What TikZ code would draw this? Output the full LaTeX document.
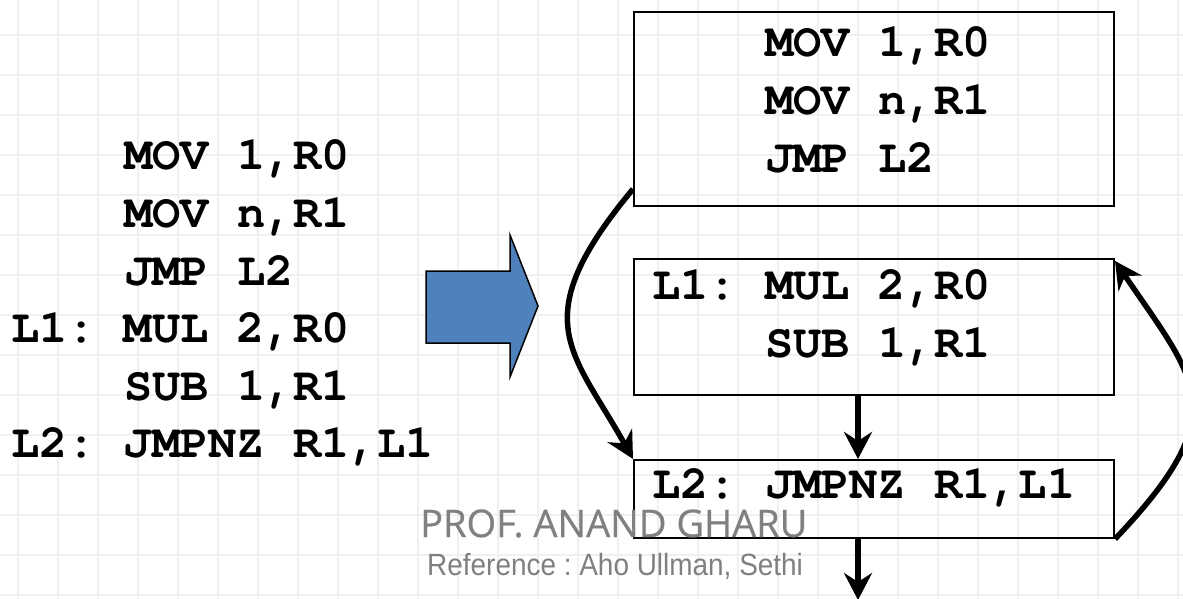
\documentclass[tikz,border=0pt]{standalone}
\usepackage{fontspec}
\usetikzlibrary{arrows.meta}
\newfontfamily\codefont{TeX Gyre Cursor}
\newfontfamily\signfont[FakeBold=0.6]{Open Sans}
\newfontfamily\reffont[FakeStretch=0.91]{Liberation Sans}
\definecolor{gridline}{HTML}{F0F0F0}
\definecolor{arrowblue}{HTML}{4F81BD}
\definecolor{signgray}{HTML}{808080}
\frenchspacing
\tikzset{
  code/.style={inner sep=0pt, anchor=base west, font=\codefont\bfseries\fontsize{47}{57.6}\selectfont},
  block/.style={draw=black, line width=2pt, inner sep=0pt, anchor=north west},
  flow/.style={draw=black, line width=5.5pt, -{Stealth[length=27pt,width=28pt,inset=9pt]}},
}
\begin{document}
\begin{tikzpicture}[x=1pt, y=-1pt]
  \useasboundingbox (0,0) rectangle (1183,599);
  \clip (0,0) rectangle (1183,599);
  \fill[white] (0,0) rectangle (1183,599);
  % background grid
  \foreach \gx in {18,58,...,1178} \draw[gridline, line width=1.5pt] (\gx,0) -- (\gx,599);
  \foreach \gy in {35,75,...,595} \draw[gridline, line width=1.5pt] (0,\gy) -- (1183,\gy);

  % source listing
  \node[code] (s1) at (124,169) {MOV 1,R0};
  \node[code] (s2) at (124,227) {MOV n,R1};
  \node[code] (s3) at (124,285) {JMP L2};
  \node[code] (s4) at (11,342) {L1: MUL 2,R0};
  \node[code] (s5) at (124,400) {SUB 1,R1};
  \node[code] (s6) at (11,457) {L2: JMPNZ R1,L1};

  % block arrow
  \filldraw[fill=arrowblue, draw=black, line width=1.5pt, line join=miter]
    (426,271) -- (510,271) -- (510,235) -- (538,306) -- (510,377) -- (510,343) -- (426,343) -- cycle;

  % basic blocks
  \node[block, minimum width=480pt, minimum height=194pt] (b1) at (633,11) {};
  \node[block, minimum width=480pt, minimum height=136pt] (b2) at (633,258) {};
  \node[block, minimum width=480pt, minimum height=78pt] (b3) at (633,459) {};

  \node[code] (t1) at (765,57) {MOV 1,R0};
  \node[code] (t2) at (765,115) {MOV n,R1};
  \node[code] (t3) at (765,172) {JMP L2};
  \node[code] (t4) at (652,299) {L1: MUL 2,R0};
  \node[code] (t5) at (765,357) {SUB 1,R1};
  \node[code] (t6) at (652,498) {L2: JMPNZ R1,L1};

  % control flow
  \coordinate (b2out) at (858,395);
  \coordinate (b3in) at (858,459);
  \coordinate (b3out) at (858,537);
  \coordinate (exit) at (858,600);
  \draw[flow] (b2out) -- (b3in);
  \draw[flow] (b3out) -- (exit);
  \draw[flow] ([yshift=18pt]b1.south west) .. controls +(-109,131) and +(-61,-109) .. (b3.north west);
  \draw[flow] (b3.south east) .. controls +(121,-127) and +(82,121) .. ([yshift=-3pt]b2.north east);

  % credits
  \node[inner sep=0pt, anchor=base west, text=signgray, font=\signfont\fontsize{38}{40}\selectfont] (sign) at (420,537) {PROF. ANAND GHARU};
  \node[inner sep=0pt, anchor=base west, text=signgray, font=\reffont\fontsize{30.7}{34}\selectfont] (ref) at (427,575) {Reference : Aho Ullman, Sethi};
\end{tikzpicture}
\end{document}
